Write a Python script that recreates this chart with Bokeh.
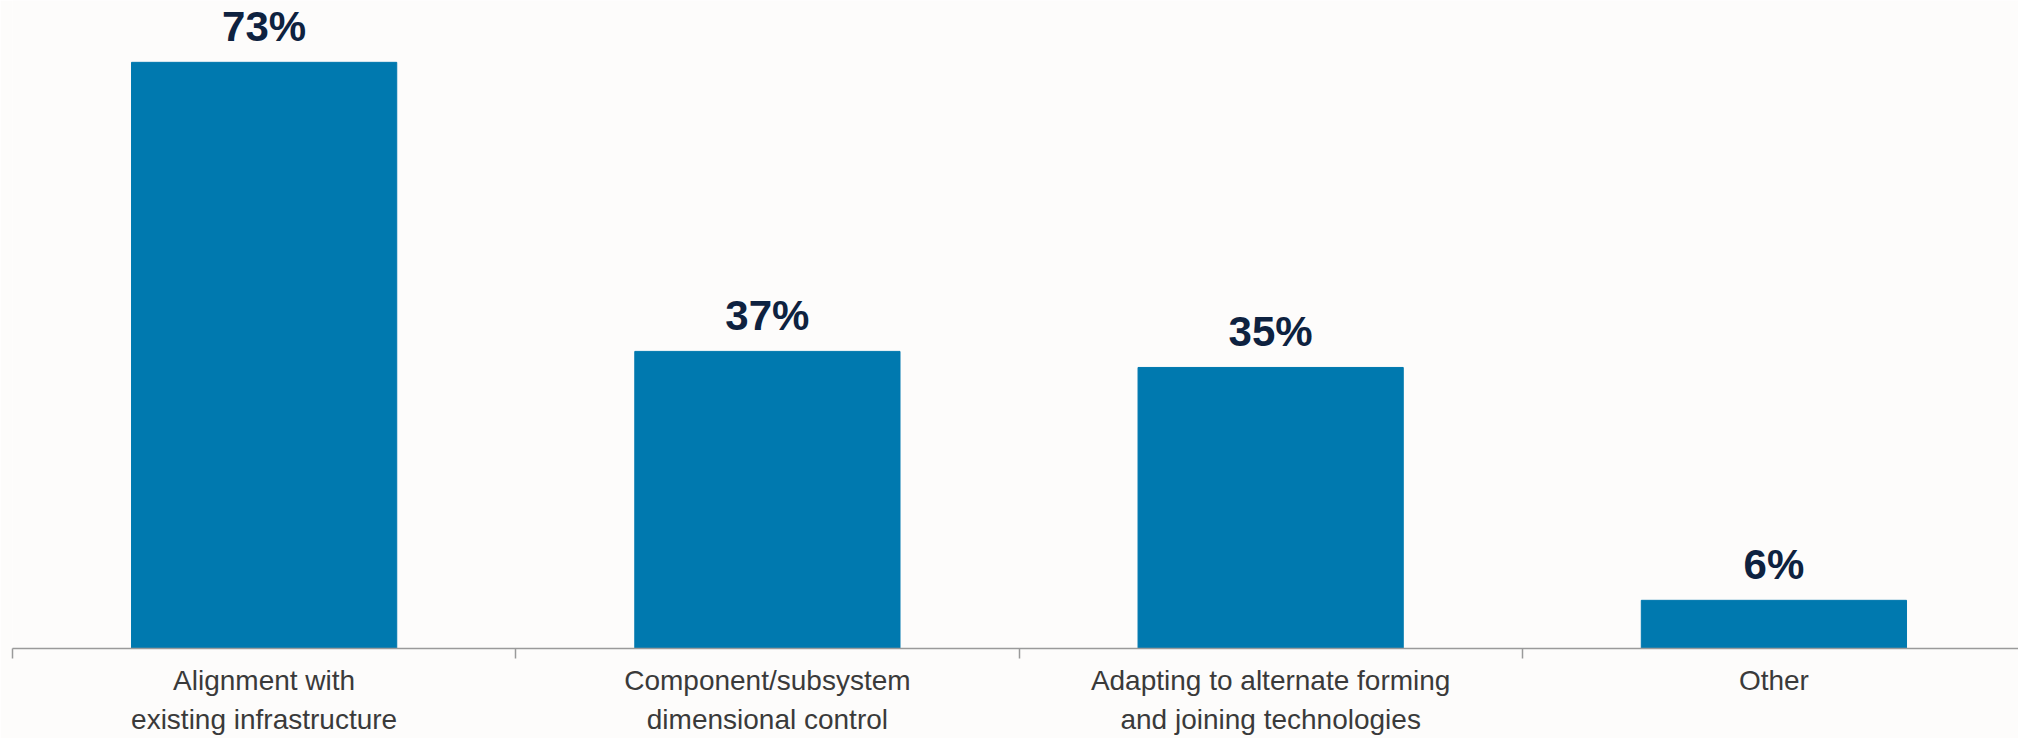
from bokeh.plotting import figure
from bokeh.models import ColumnDataSource, Range1d, FixedTicker, LinearAxis
from bokeh.core.properties import value
from bokeh.embed import file_html
from bokeh.resources import INLINE

categories = [
    "Alignment with\nexisting infrastructure",
    "Component/subsystem\ndimensional control",
    "Adapting to alternate forming\nand joining technologies",
    "Other",
]
values = [73, 37, 35, 6]
value_labels = ["73%", "37%", "35%", "6%"]

BG = "#FDFCFB"
BAR = "#0079AF"

xs = [i + 0.5 for i in range(len(categories))]
src = ColumnDataSource(dict(x=xs, top=values, label=value_labels))

p = figure(width=2018, height=738, output_backend="svg", toolbar_location=None,
           x_range=Range1d(0, 3.986), y_range=Range1d(0, 80.7),
           x_axis_type=None, y_axis_type=None,
           min_border_left=12, min_border_right=0, min_border_top=0, min_border_bottom=0)
p.background_fill_color = BG
p.border_fill_color = BG
p.outline_line_color = None
p.xgrid.visible = False
p.ygrid.visible = False

p.vbar(x="x", top="top", bottom=0, width=0.527, source=src,
       fill_color=BAR, line_color=BAR)

p.text(x="x", y="top", text="label", source=src,
       text_font=value("Liberation Sans"), text_font_style="bold",
       text_font_size="42px", text_color="#0E2240",
       text_align="center", text_baseline="alphabetic", y_offset=-36)

axis = LinearAxis(ticker=FixedTicker(ticks=xs, minor_ticks=list(range(len(categories) + 1))))
axis.major_label_overrides = {x: c for x, c in zip(xs, categories)}
axis.major_tick_out = 0
axis.major_tick_in = 0
axis.minor_tick_out = 10
axis.minor_tick_in = 0
axis.minor_tick_line_color = "#9A9A9A"
axis.minor_tick_line_width = 1.5
axis.axis_line_color = "#9A9A9A"
axis.axis_line_width = 1.5
axis.major_label_standoff = 6
axis.major_label_text_font = "Liberation Sans"
axis.major_label_text_font_size = "28px"
axis.major_label_text_color = "#3A3A3A"
axis.major_label_text_line_height = 1.28
p.add_layout(axis, "below")

open("out.html", "w").write(file_html(p, INLINE))
